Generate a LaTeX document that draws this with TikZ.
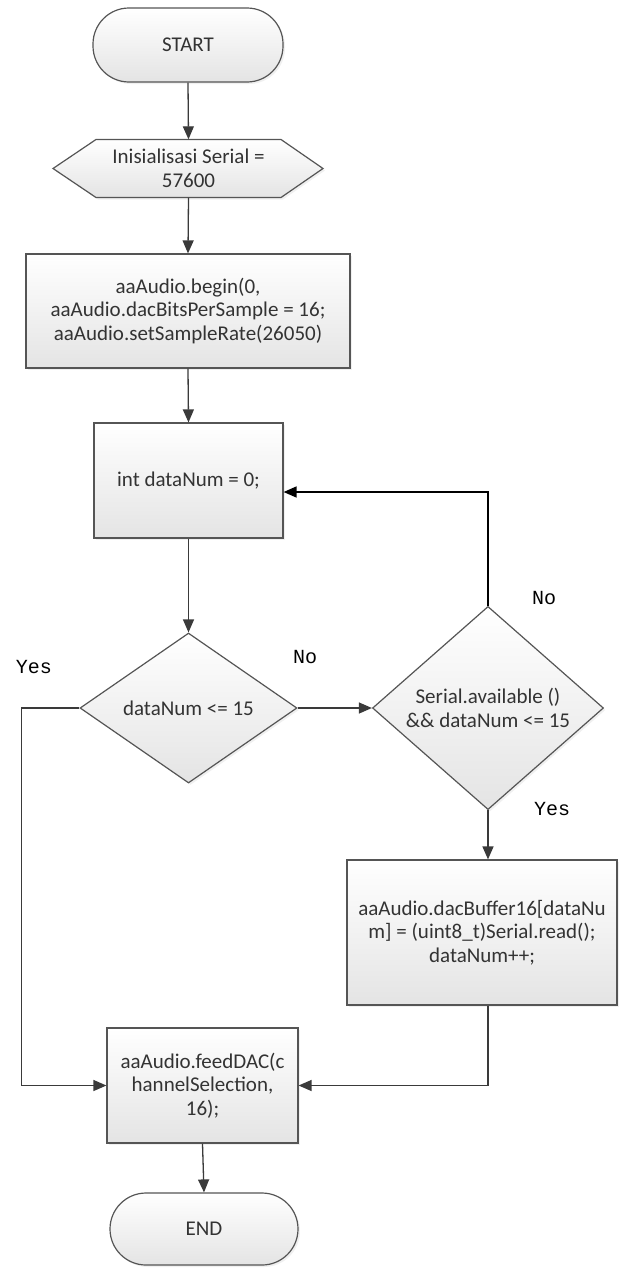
\documentclass[tikz,border=0pt]{standalone}
\usepackage{fontspec}
\setmainfont{Carlito}
\newfontfamily\monofont{Liberation Mono}
\usetikzlibrary{shapes.geometric,arrows.meta,shadows}

\definecolor{edgegray}{HTML}{555555}
\definecolor{conngray}{HTML}{3A3A3A}
\definecolor{txtgray}{HTML}{333333}
\definecolor{fillbot}{HTML}{E4E4E4}

\tikzset{
  shp/.style={draw=edgegray, line width=1.2pt, top color=white, bottom color=fillbot,
    text=txtgray, font=\fontsize{21}{23.5}\selectfont, align=center, inner sep=0pt,
    drop shadow={opacity=0.12, shadow xshift=2pt, shadow yshift=-2pt}},
  procbox/.style={shp, rectangle},
  termbox/.style={shp, rectangle, rounded corners=36pt},
  decbox/.style={shp, diamond},
  hextext/.style={rectangle, inner sep=0pt, text=txtgray, font=\fontsize{21}{23.5}\selectfont, align=center},
  conn/.style={draw=conngray, line width=1.3pt, -{Triangle[length=13pt,width=11pt]}},
  blkconn/.style={draw=black, line width=1.6pt, -{Triangle[length=13pt,width=11pt]}},
  lbl/.style={font=\monofont\fontsize{20}{20}\selectfont, text=black, inner sep=0pt}
}

\begin{document}
\begin{tikzpicture}[x=1pt,y=-1pt]
\useasboundingbox (0,0) rectangle (620,1269);

% start
\node[termbox, minimum width=190pt, minimum height=74pt] (start) at (188,45) {START};

% hexagon (preparation)
\path[draw=edgegray, line width=1.2pt, top color=white, bottom color=fillbot,
  drop shadow={opacity=0.12, shadow xshift=2pt, shadow yshift=-2pt}]
  (96,139.5) -- (281,139.5) -- (323,168.5) -- (281,197.5) -- (96,197.5) -- (53,168.5) -- cycle;
\node[hextext, minimum width=185pt, minimum height=58pt] (init) at (188.5,168.5)
  {Inisialisasi Serial =\\57600};

% process boxes
\node[procbox, minimum width=324pt, minimum height=114pt] (box1) at (188,311)
  {aaAudio.begin(0,\\aaAudio.dacBitsPerSample = 16;\\aaAudio.setSampleRate(26050)};
\node[procbox, minimum width=189pt, minimum height=115pt] (box2) at (188.5,480.5)
  {int dataNum = 0;};

% decisions
\node[decbox, minimum width=217pt, minimum height=150pt] (dec1) at (188.5,708)
  {dataNum <= 15};
\node[decbox, minimum width=231pt, minimum height=164pt] (dec2) at (488,708)
  {Serial.available ()\\\&\& dataNum <= 15};

\node[procbox, minimum width=270pt, minimum height=145pt] (box3) at (482,932.5)
  {aaAudio.dacBuffer16[dataNu\\m] = (uint8\_t)Serial.read();\\dataNum++;};
\node[procbox, minimum width=191pt, minimum height=115pt] (box4) at (202.5,1085.5)
  {aaAudio.feedDAC(c\\hannelSelection,\\16);};

\node[termbox, minimum width=188pt, minimum height=72pt] (end) at (204,1229) {END};

% connectors
\draw[conn] (start.south) -- (init.north);
\draw[conn] (init.south) -- (box1.north);
\draw[conn] (box1.south) -- (box2.north);
\draw[conn] (box2.south) -- (dec1.north);
\draw[conn] (dec1.east) -- (dec2.west);
\draw[blkconn] (dec2.north) |- ([yshift=-11.5pt]box2.east);
\draw[conn] (dec2.south) -- (dec2.south |- box3.north);
\draw[conn] (dec1.west) -- ++(-58,0) |- (box4.west);
\draw[conn] (dec2.south |- box3.south) |- (box4.east);
\draw[conn] (box4.south) -- (end.north);

% labels
\node[lbl] (yes1) at (34,667) {Yes};
\node[lbl] (no1) at (305,657) {No};
\node[lbl] (no2) at (544,598) {No};
\node[lbl] (yes2) at (552,809) {Yes};
\end{tikzpicture}
\end{document}
